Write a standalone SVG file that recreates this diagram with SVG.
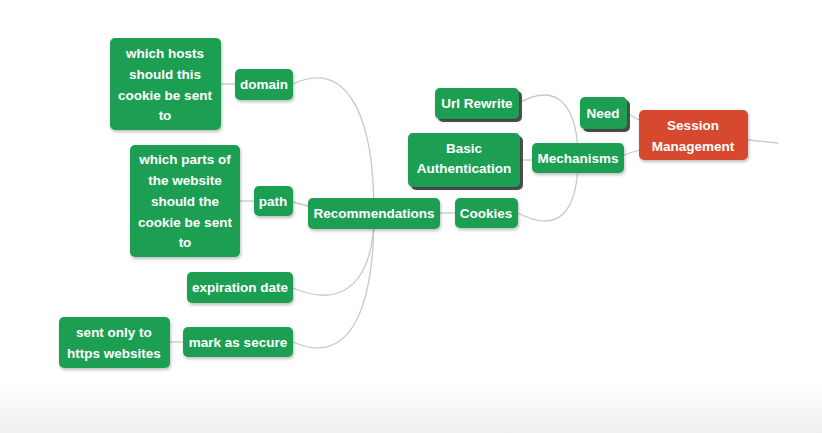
<svg xmlns="http://www.w3.org/2000/svg" width="822" height="433" viewBox="0 0 822 433">
<defs>
<linearGradient id="bg" x1="0" y1="0" x2="0" y2="1">
<stop offset="0" stop-color="#ffffff"/>
<stop offset="1" stop-color="#efefef"/>
</linearGradient>
<filter id="sh" x="-20%" y="-20%" width="140%" height="150%">
<feDropShadow dx="1" dy="2" stdDeviation="1.5" flood-color="#000" flood-opacity="0.25"/>
</filter>
</defs>
<style>
.n{fill:#1d9f52;filter:url(#sh)}
.r{fill:#d64a2e;filter:url(#sh)}
.d{fill:#555}
.t{font-family:"Liberation Sans",Arial,sans-serif;font-weight:bold;font-size:13.5px;fill:#fff;text-anchor:middle}
.c{fill:none;stroke:#c8c8c8;stroke-width:1.3}
</style>
<rect width="822" height="433" fill="#fff"/>
<rect x="0" y="385" width="822" height="48" fill="url(#bg)"/>
<g id="connectors">
<path class="c" d="M748,140 L778,143"/>
<path class="c" d="M627,113 L639,120"/>
<path class="c" d="M624,155 L639,150"/>
<path class="c" d="M519,103 C560,80 578,110 578,158"/>
<path class="c" d="M518,213 C560,235 578,210 578,158"/>
<path class="c" d="M520,160 L532,160"/>
<path class="c" d="M440,213 L455,213"/>
<path class="c" d="M293,84 C345,60 374,110 374,213"/>
<path class="c" d="M293,288 C345,310 374,280 374,213"/>
<path class="c" d="M293,342 C345,365 374,320 374,213"/>
<path class="c" d="M293,202 L308,206"/>
<path class="c" d="M221,84 L235,84"/>
<path class="c" d="M240,201 L254,201"/>
<path class="c" d="M170,342 L183,342"/>
</g>
<g id="session">
<rect class="r" x="639" y="110" width="109" height="50" rx="5"/>
<text class="t" x="693" y="130">Session</text>
<text class="t" x="693" y="151">Management</text>
</g>
<g id="need">
<rect class="d" x="583" y="100" width="47" height="32" rx="5"/>
<rect class="n" x="580" y="97" width="47" height="32" rx="5"/>
<text class="t" x="603" y="118">Need</text>
</g>
<g id="mechanisms">
<rect class="n" x="532" y="143" width="92" height="30" rx="5"/>
<text class="t" x="578" y="163">Mechanisms</text>
</g>
<g id="urlrewrite">
<rect class="d" x="438" y="91" width="84" height="31" rx="5"/>
<rect class="n" x="435" y="88" width="84" height="31" rx="5"/>
<text class="t" x="477" y="108">Url Rewrite</text>
</g>
<g id="basicauth">
<rect class="d" x="411" y="136" width="112" height="54" rx="5"/>
<rect class="n" x="408" y="133" width="112" height="54" rx="5"/>
<text class="t" x="464" y="153">Basic</text>
<text class="t" x="464" y="173">Authentication</text>
</g>
<g id="cookies">
<rect class="n" x="455" y="198" width="63" height="30" rx="5"/>
<text class="t" x="486" y="218">Cookies</text>
</g>
<g id="recommendations">
<rect class="n" x="308" y="198" width="132" height="31" rx="5"/>
<text class="t" x="374" y="218">Recommendations</text>
</g>
<g id="domain">
<rect class="n" x="235" y="69" width="58" height="31" rx="5"/>
<text class="t" x="264" y="89">domain</text>
</g>
<g id="hosts">
<rect class="n" x="110" y="38" width="111" height="92" rx="5"/>
<text class="t" x="165" y="58">which hosts</text>
<text class="t" x="165" y="79">should this</text>
<text class="t" x="165" y="100">cookie be sent</text>
<text class="t" x="165" y="120">to</text>
</g>
<g id="path">
<rect class="n" x="254" y="186" width="39" height="30" rx="5"/>
<text class="t" x="273" y="206">path</text>
</g>
<g id="parts">
<rect class="n" x="130" y="145" width="110" height="112" rx="5"/>
<text class="t" x="185" y="164">which parts of</text>
<text class="t" x="185" y="185">the website</text>
<text class="t" x="185" y="206">should the</text>
<text class="t" x="185" y="227">cookie be sent</text>
<text class="t" x="185" y="247">to</text>
</g>
<g id="expiration">
<rect class="n" x="187" y="272" width="106" height="31" rx="5"/>
<text class="t" x="240" y="292">expiration date</text>
</g>
<g id="secure">
<rect class="n" x="183" y="327" width="110" height="30" rx="5"/>
<text class="t" x="238" y="347">mark as secure</text>
</g>
<g id="sentonly">
<rect class="n" x="59" y="317" width="111" height="51" rx="5"/>
<text class="t" x="114" y="337">sent only to</text>
<text class="t" x="114" y="358">https websites</text>
</g>
</svg>
